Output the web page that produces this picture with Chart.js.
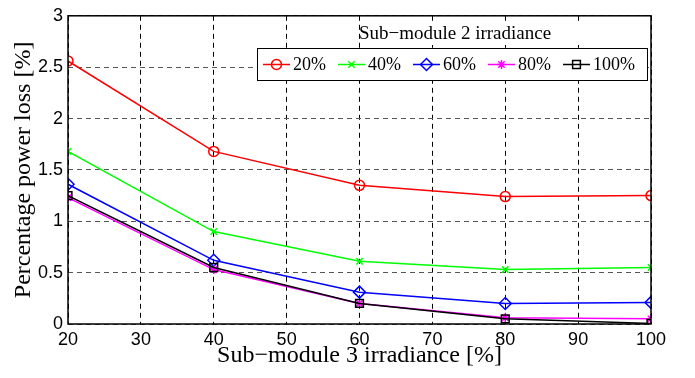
<!DOCTYPE html>
<html>
<head>
<meta charset="utf-8">
<script src="https://cdn.jsdelivr.net/npm/chart.js@4.4.0/dist/chart.umd.min.js"></script>
<style>
  html, body { margin: 0; padding: 0; background: #fff; }
</style>
</head>
<body>
<canvas id="chartLoss" width="695" height="378"></canvas>
<script>
/* =========================================================
   POWER LOSS vs SUB-MODULE IRRADIANCE
   ========================================================= */

// 1. Data
const irradianceSub3 = [20, 40, 60, 80, 100];
const seriesLabels = ['20%', '40%', '60%', '80%', '100%'];
const loss20 = [2.56, 1.68, 1.35, 1.24, 1.25];
const loss40 = [1.68, 0.90, 0.61, 0.53, 0.55];
const loss60 = [1.36, 0.62, 0.31, 0.20, 0.21];
const loss80 = [1.23, 0.53, 0.20, 0.06, 0.05];
const loss100 = [1.25, 0.55, 0.20, 0.05, 0.005];
const xTickValues = [20, 30, 40, 50, 60, 70, 80, 90, 100];
const yTickValues = [0, 0.5, 1, 1.5, 2, 2.5, 3];

const legendTitle = 'Sub\u2212module 2 irradiance';
const xTitle = 'Sub\u2212module 3 irradiance [%]';
const yTitle = 'Percentage power loss [%]';

// 2. Styles per series (MATLAB-like colour order)
const seriesStyles = [
    { color: '#ff0000', point: 'circle',   radius: 5 },
    { color: '#00ff00', point: 'crossRot', radius: 4.5 },
    { color: '#0000ff', point: 'rectRot',  radius: 6 },
    { color: '#ff00ff', point: 'star',     radius: 4.5 },
    { color: '#000000', point: 'rect',     radius: 5.5 }
];

const seriesValues = [loss20, loss40, loss60, loss80, loss100];

const datasets = seriesValues.map((vals, i) => ({
    label: seriesLabels[i],
    data: irradianceSub3.map((x, k) => ({ x: x, y: vals[k] })),
    borderColor: seriesStyles[i].color,
    borderWidth: 1.5,
    pointStyle: seriesStyles[i].point,
    pointRadius: seriesStyles[i].radius,
    pointBorderColor: seriesStyles[i].color,
    pointBackgroundColor: 'rgba(0,0,0,0)',
    pointBorderWidth: 1.5,
    fill: false,
    tension: 0,
    order: seriesValues.length - i
}));

/**
 * Caja de ejes (los cuatro lados, encima de las líneas)
 */
const axisBox = {
    id: 'axisBox',
    afterDatasetsDraw(chart) {
        const { ctx, chartArea: a } = chart;
        ctx.save();
        ctx.strokeStyle = '#000';
        ctx.lineWidth = 1.5;
        ctx.strokeRect(a.left, a.top, a.right - a.left, a.bottom - a.top);
        ctx.restore();
    }
};

/**
 * Leyenda con título, una línea con marcador por serie
 */
const boxedLegend = {
    id: 'boxedLegend',
    afterDraw(chart) {
        const ctx = chart.ctx;
        ctx.save();

        // title sits on a white patch over the grid
        ctx.fillStyle = '#fff';
        ctx.fillRect(362, 23, 238, 22);
        ctx.fillStyle = '#000';
        ctx.font = '19px "Liberation Serif"';
        ctx.textAlign = 'center';
        ctx.textBaseline = 'middle';
        ctx.fillText(legendTitle, 455, 34);

        // frame
        ctx.fillStyle = '#fff';
        ctx.fillRect(257, 48, 390, 32);
        ctx.strokeStyle = '#000';
        ctx.lineWidth = 1;
        ctx.strokeRect(257.5, 48.5, 390, 32);

        ctx.font = '18px "Liberation Serif"';
        ctx.textAlign = 'left';
        chart.data.datasets.forEach((ds, i) => {
            const x0 = 263 + i * 75;
            const y = 64.5;
            ctx.strokeStyle = ds.borderColor;
            ctx.lineWidth = 1.5;
            ctx.beginPath();
            ctx.moveTo(x0, y);
            ctx.lineTo(x0 + 27, y);
            ctx.stroke();
            ctx.fillStyle = 'rgba(0,0,0,0)';
            Chart.helpers.drawPoint(ctx, {
                pointStyle: ds.pointStyle,
                radius: ds.pointRadius,
                borderWidth: 1.5,
                rotation: 0
            }, x0 + 13.5, y);
            ctx.fillStyle = '#000';
            ctx.fillText(ds.label, x0 + 30, y + 1);
        });
        ctx.restore();
    }
};

// 3. Chart
const tickFont = { family: 'Liberation Sans', size: 18 };
const titleFont = { family: 'Liberation Serif', size: 24 };

new Chart(document.getElementById('chartLoss').getContext('2d'), {
    type: 'line',
    data: { datasets: datasets },
    options: {
        responsive: false,
        devicePixelRatio: 1,
        animation: false,
        events: [],
        layout: { padding: { left: 0, top: 12, right: 44, bottom: 0 } },
        plugins: { legend: { display: false }, tooltip: { enabled: false } },
        scales: {
            x: {
                type: 'linear',
                min: 20,
                max: 100,
                afterBuildTicks: (s) => { s.ticks = xTickValues.map(v => ({ value: v })); },
                afterFit: (s) => { s.height = 54; },
                ticks: { font: tickFont, color: '#000', padding: 5, maxRotation: 0, callback: (v) => String(v) },
                grid: { color: '#000', lineWidth: 1, drawTicks: false },
                border: { display: false, dash: [5, 4] },
                title: { display: true, text: xTitle, font: titleFont, color: '#000', padding: { top: 0, bottom: 8 } }
            },
            y: {
                min: 0,
                max: 3,
                afterBuildTicks: (s) => { s.ticks = yTickValues.map(v => ({ value: v })); },
                afterFit: (s) => { s.width = 68; },
                ticks: { font: tickFont, color: '#000', padding: 5, callback: (v) => String(v) },
                grid: { color: '#555', lineWidth: 1, drawTicks: false },
                border: { display: false, dash: [5, 4] },
                title: { display: true, text: yTitle, font: titleFont, color: '#000', padding: { top: 9, bottom: 0 } }
            }
        }
    },
    plugins: [axisBox, boxedLegend]
});
</script>
</body>
</html>
